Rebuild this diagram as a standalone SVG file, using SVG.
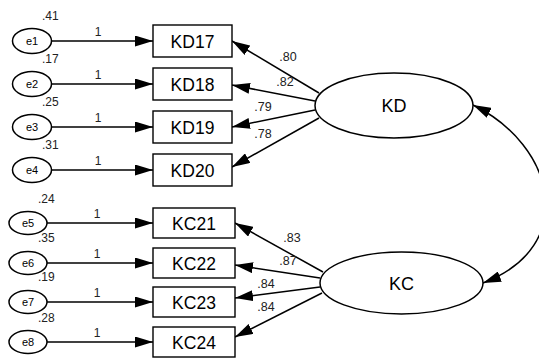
<svg xmlns="http://www.w3.org/2000/svg" width="539" height="363" viewBox="0 0 539 363">
<style>
.bg{fill:#fff}
.box{fill:#fff;stroke:#000;stroke-width:1.4}
.ell{fill:#fff;stroke:#000;stroke-width:1.5}
.ln{fill:none;stroke:#000;stroke-width:1.5}
.t{font-family:"Liberation Sans",Arial,sans-serif;fill:#000;text-anchor:middle}
.big{font-size:17.5px}
.lat{font-size:18px}
.e{font-size:11px}
.sm{font-family:"Liberation Sans",Arial,sans-serif;fill:#222;font-size:12px}
.ld{font-family:"Liberation Sans",Arial,sans-serif;fill:#222;font-size:12.5px;text-anchor:middle}
</style>
<defs>
<marker id="ah" viewBox="0 0 18 11" refX="18" refY="5.5" markerWidth="18" markerHeight="11" markerUnits="userSpaceOnUse" orient="auto-start-reverse">
<path d="M0,0 L18,5.5 L0,11 z" fill="#000"/>
</marker>
</defs>
<rect class="bg" x="0" y="0" width="539" height="363"/>
<g id="connectors">
<line class="ln" x1="51.5" y1="41" x2="153" y2="41" marker-end="url(#ah)"/>
<line class="ln" x1="51.5" y1="84" x2="153" y2="84" marker-end="url(#ah)"/>
<line class="ln" x1="51.5" y1="127" x2="153" y2="127" marker-end="url(#ah)"/>
<line class="ln" x1="51.5" y1="170" x2="153" y2="170" marker-end="url(#ah)"/>
<line class="ln" x1="47" y1="223" x2="153" y2="223" marker-end="url(#ah)"/>
<line class="ln" x1="47" y1="263" x2="153" y2="263" marker-end="url(#ah)"/>
<line class="ln" x1="47" y1="302" x2="153" y2="302" marker-end="url(#ah)"/>
<line class="ln" x1="47" y1="342" x2="153" y2="342" marker-end="url(#ah)"/>
<line class="ln" x1="319" y1="93" x2="232" y2="41" marker-end="url(#ah)"/>
<line class="ln" x1="315" y1="101" x2="232" y2="85" marker-end="url(#ah)"/>
<line class="ln" x1="315" y1="110" x2="232" y2="127" marker-end="url(#ah)"/>
<line class="ln" x1="319" y1="118" x2="232" y2="167" marker-end="url(#ah)"/>
<line class="ln" x1="323" y1="272" x2="235" y2="223" marker-end="url(#ah)"/>
<line class="ln" x1="320" y1="278" x2="235" y2="265" marker-end="url(#ah)"/>
<line class="ln" x1="320" y1="287" x2="235" y2="298" marker-end="url(#ah)"/>
<line class="ln" x1="322" y1="293" x2="235" y2="337" marker-end="url(#ah)"/>
<path class="ln" d="M473,105 C555,145 580,246 483,283" marker-start="url(#ah)" marker-end="url(#ah)"/>
<text class="sm" x="98" y="36" text-anchor="middle">1</text>
<text class="sm" x="98" y="79" text-anchor="middle">1</text>
<text class="sm" x="98" y="122" text-anchor="middle">1</text>
<text class="sm" x="98" y="165" text-anchor="middle">1</text>
<text class="sm" x="97" y="218" text-anchor="middle">1</text>
<text class="sm" x="97" y="258" text-anchor="middle">1</text>
<text class="sm" x="97" y="297" text-anchor="middle">1</text>
<text class="sm" x="97" y="337" text-anchor="middle">1</text>
<text class="ld" x="288" y="61">.80</text>
<text class="ld" x="285" y="86">.82</text>
<text class="ld" x="263" y="111">.79</text>
<text class="ld" x="263" y="138">.78</text>
<text class="ld" x="292" y="242">.83</text>
<text class="ld" x="288" y="265">.87</text>
<text class="ld" x="266" y="288">.84</text>
<text class="ld" x="266" y="311">.84</text>
</g>
<g id="e1"><ellipse class="ell" cx="32" cy="41" rx="19.5" ry="12.5"/><text class="t e" x="32" y="45">e1</text><text class="sm" x="42" y="20">.41</text></g>
<g id="e2"><ellipse class="ell" cx="32" cy="84" rx="19.5" ry="12.5"/><text class="t e" x="32" y="88">e2</text><text class="sm" x="42" y="63">.17</text></g>
<g id="e3"><ellipse class="ell" cx="32" cy="127" rx="19.5" ry="12.5"/><text class="t e" x="32" y="131">e3</text><text class="sm" x="42" y="106">.25</text></g>
<g id="e4"><ellipse class="ell" cx="32" cy="170" rx="19.5" ry="12.5"/><text class="t e" x="32" y="174">e4</text><text class="sm" x="42" y="149">.31</text></g>
<g id="e5"><ellipse class="ell" cx="28" cy="223" rx="19" ry="11.5"/><text class="t e" x="28" y="227">e5</text><text class="sm" x="38" y="203">.24</text></g>
<g id="e6"><ellipse class="ell" cx="28" cy="263" rx="19" ry="11.5"/><text class="t e" x="28" y="267">e6</text><text class="sm" x="38" y="242">.35</text></g>
<g id="e7"><ellipse class="ell" cx="28" cy="302" rx="19" ry="11.5"/><text class="t e" x="28" y="306">e7</text><text class="sm" x="38" y="281">.19</text></g>
<g id="e8"><ellipse class="ell" cx="28" cy="342" rx="19" ry="11.5"/><text class="t e" x="28" y="346">e8</text><text class="sm" x="38" y="322">.28</text></g>
<g id="KD17"><rect class="box" x="153" y="25" width="79" height="32"/><text class="t big" x="192.5" y="47.5">KD17</text></g>
<g id="KD18"><rect class="box" x="153" y="68" width="79" height="32"/><text class="t big" x="192.5" y="90.5">KD18</text></g>
<g id="KD19"><rect class="box" x="153" y="111" width="79" height="32"/><text class="t big" x="192.5" y="133.5">KD19</text></g>
<g id="KD20"><rect class="box" x="153" y="154" width="79" height="32"/><text class="t big" x="192.5" y="176.5">KD20</text></g>
<g id="KC21"><rect class="box" x="153" y="208" width="82" height="30"/><text class="t big" x="194" y="229.5">KC21</text></g>
<g id="KC22"><rect class="box" x="153" y="248" width="82" height="30"/><text class="t big" x="194" y="269.5">KC22</text></g>
<g id="KC23"><rect class="box" x="153" y="287" width="82" height="30"/><text class="t big" x="194" y="308.5">KC23</text></g>
<g id="KC24"><rect class="box" x="153" y="327" width="82" height="30"/><text class="t big" x="194" y="348.5">KC24</text></g>
<g id="KD"><ellipse class="ell" cx="394" cy="105.5" rx="79" ry="32.5"/><text class="t lat" x="394" y="112">KD</text></g>
<g id="KC"><ellipse class="ell" cx="401.5" cy="283" rx="81.5" ry="31"/><text class="t lat" x="401.5" y="289.5">KC</text></g>
</svg>
